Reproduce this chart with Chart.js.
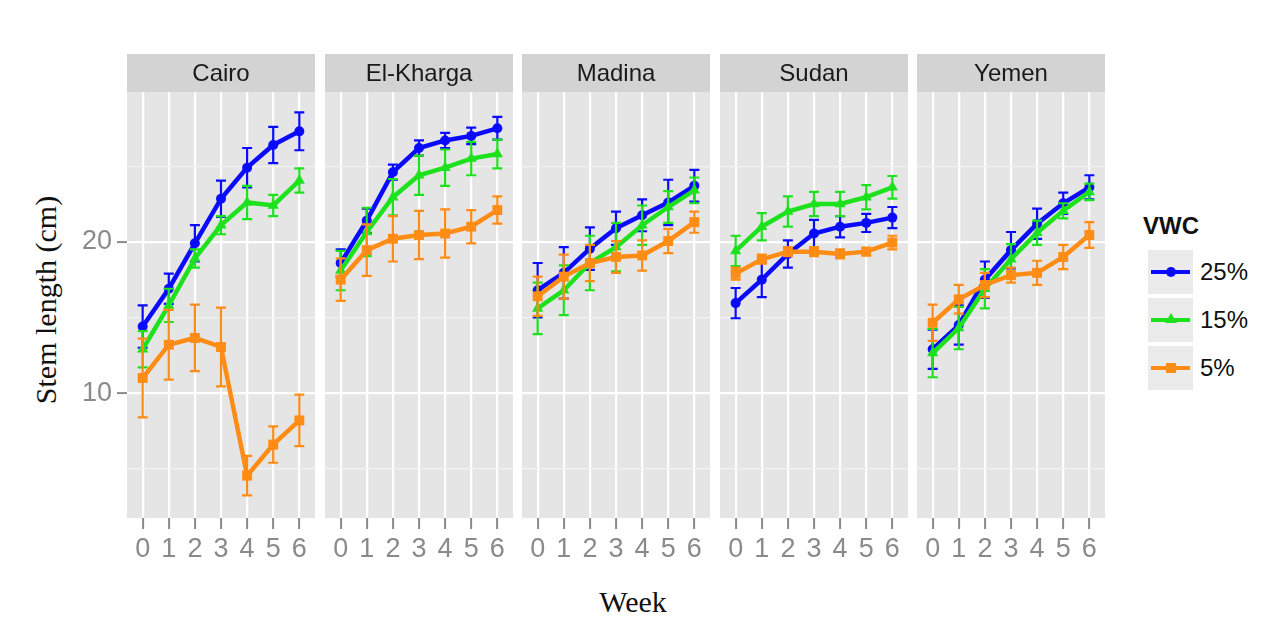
<!DOCTYPE html>
<html>
<head>
<meta charset="utf-8">
<script src="https://cdn.jsdelivr.net/npm/chart.js@4.4.0/dist/chart.umd.min.js"></script>
<style>
  body { margin: 0; background: #fff; width: 1280px; height: 619px; position: relative; overflow: hidden;
         font-family: "Liberation Sans", Arial, sans-serif; }
  canvas { position: absolute; }
  #ytitle { position: absolute; left: 46px; top: 300px; transform: translate(-50%, -50%) rotate(-90deg);
            font: 30px "Liberation Serif", "Times New Roman", serif; white-space: nowrap; color: #111; }
  #xtitle { position: absolute; left: 633px; top: 602px; transform: translate(-50%, -50%);
            font: 30px "Liberation Serif", "Times New Roman", serif; color: #111; }
  #legend { position: absolute; left: 1143px; top: 212px; }
  #legend .title { font-weight: bold; font-size: 24px; color: #111; margin-bottom: 10px; }
  .key { position: relative; height: 48px; }
  .box { position: absolute; left: 5px; top: 0; width: 45px; height: 44px; background: #ebebeb; }
  .line { position: absolute; left: 3px; right: 3px; top: 20px; height: 4px; }
  .mk { position: absolute; left: 50%; top: 22px; transform: translate(-50%, -50%); }
  .lab { position: absolute; left: 57px; top: 8px; font-size: 24px; color: #111; }
</style>
</head>
<body>
<div id="ytitle">Stem length (cm)</div>
<div id="xtitle">Week</div>
<div id="legend"></div>

<script>
// --- Data ---
const weeks = [0, 1, 2, 3, 4, 5, 6];
const sites = ['Cairo', 'El-Kharga', 'Madina', 'Sudan', 'Yemen'];
const levels = ['25%', '15%', '5%'];
const yTicks = [5, 10, 15, 20, 25];

// one row per site, one value per week
const mean25 = [
    [14.4, 16.9, 19.9, 22.85, 24.9, 26.4, 27.3],
    [18.6, 21.4, 24.6, 26.2, 26.7, 27.0, 27.5],
    [16.8, 17.95, 19.55, 20.9, 21.75, 22.6, 23.7],
    [15.95, 17.5, 19.2, 20.55, 21.0, 21.25, 21.6],
    [12.9, 14.5, 17.5, 19.45, 21.2, 22.55, 23.6]
];
const err25 = [
    [1.4, 1.0, 1.2, 1.2, 1.3, 1.2, 1.25],
    [0.9, 0.8, 0.5, 0.5, 0.5, 0.55, 0.75],
    [1.8, 1.7, 1.4, 1.1, 1.05, 1.5, 1.05],
    [1.0, 1.15, 0.9, 0.9, 0.7, 0.6, 0.7],
    [1.3, 1.3, 1.2, 1.2, 1.0, 0.7, 0.8]
];
const mean15 = [
    [12.9, 15.8, 18.9, 21.1, 22.6, 22.4, 24.05],
    [18.1, 20.65, 22.95, 24.4, 24.9, 25.5, 25.8],
    [15.6, 16.8, 18.6, 19.65, 21.1, 22.3, 23.4],
    [19.4, 21.0, 22.0, 22.5, 22.5, 22.95, 23.6],
    [12.65, 14.3, 16.9, 18.85, 20.6, 22.05, 23.3]
];
const err15 = [
    [1.2, 1.1, 0.6, 0.6, 1.1, 0.7, 0.8],
    [1.3, 1.6, 1.2, 1.3, 1.2, 1.1, 0.95],
    [1.7, 1.65, 1.8, 1.6, 1.3, 1.05, 0.85],
    [1.0, 0.9, 1.0, 0.8, 0.8, 0.8, 0.75],
    [1.6, 1.4, 1.3, 1.0, 0.8, 0.5, 0.55]
];
const mean5 = [
    [11.0, 13.2, 13.65, 13.05, 4.55, 6.6, 8.2],
    [17.5, 19.45, 20.2, 20.45, 20.55, 21.0, 22.1],
    [16.4, 17.7, 18.6, 19.0, 19.1, 20.05, 21.3],
    [17.9, 18.85, 19.35, 19.35, 19.2, 19.35, 19.95],
    [14.65, 16.2, 17.15, 17.8, 17.95, 19.0, 20.45]
];
const err5 = [
    [2.6, 2.3, 2.2, 2.6, 1.3, 1.2, 1.7],
    [1.4, 1.7, 1.5, 1.6, 1.6, 1.1, 0.9],
    [1.3, 1.45, 1.2, 1.05, 1.0, 0.8, 0.7],
    [0.4, 0.3, 0.3, 0.3, 0.3, 0.25, 0.45],
    [1.2, 0.95, 0.8, 0.5, 0.8, 0.8, 0.85]
];

const colors = ['#0a0aff', '#1ee11e', '#ff8c14'];
const shapes = ['circle', 'triangle', 'rect'];
const radii = [5, 6.5, 7];

// --- Layout ---
const panelLefts = [127, 325, 522, 720, 917];
const PANEL_W = 188;
const TOP = 54, STRIP = 38, X_AXIS_H = 57, H = 521;
const Y_AXIS_W = 60;
const tickFont = { size: 27, family: '"Liberation Sans", Arial, sans-serif' };

// panel background + facet strip
const facet = {
    id: 'facet',
    beforeDraw(chart) {
        const { ctx, chartArea: a } = chart;
        ctx.save();
        ctx.fillStyle = '#e5e5e5';
        ctx.fillRect(a.left, a.top, a.right - a.left, a.bottom - a.top);
        ctx.fillStyle = '#d3d3d3';
        ctx.fillRect(a.left, 0, a.right - a.left, STRIP);
        ctx.fillStyle = '#1a1a1a';
        ctx.font = '24px "Liberation Sans", Arial, sans-serif';
        ctx.textAlign = 'center';
        ctx.textBaseline = 'middle';
        ctx.fillText(chart.options.plugins.facet.label, (a.left + a.right) / 2, STRIP / 2 + 1);
        ctx.restore();
    }
};

// error bars, drawn right after each line
const errorBars = {
    id: 'errorBars',
    afterDatasetDraw(chart, args) {
        const ds = chart.data.datasets[args.index];
        const x = chart.scales.x, y = chart.scales.y, ctx = chart.ctx;
        ctx.save();
        ctx.strokeStyle = ds.borderColor;
        ctx.lineWidth = 2.2;
        ds.data.forEach((p, i) => {
            const px = x.getPixelForValue(p.x);
            const top = y.getPixelForValue(p.y + ds.err[i]);
            const bot = y.getPixelForValue(p.y - ds.err[i]);
            ctx.beginPath();
            ctx.moveTo(px, top); ctx.lineTo(px, bot);
            ctx.moveTo(px - 5, top); ctx.lineTo(px + 5, top);
            ctx.moveTo(px - 5, bot); ctx.lineTo(px + 5, bot);
            ctx.stroke();
        });
        ctx.restore();
    }
};

function makeSeries(means, errs, k, s) {
    return {
        label: levels[k],
        data: weeks.map((w, i) => ({ x: w, y: means[s][i] })),
        err: errs[s],
        borderColor: colors[k],
        backgroundColor: colors[k],
        borderWidth: 4.5,
        pointStyle: shapes[k],
        pointRadius: radii[k],
        pointBorderWidth: 0,
        order: 3 - k
    };
}

sites.forEach((site, s) => {
    const first = s === 0;
    const cv = document.createElement('canvas');
    const w = PANEL_W + (first ? Y_AXIS_W : 0);
    cv.width = w; cv.height = H;
    cv.style.left = (panelLefts[s] - (first ? Y_AXIS_W : 0)) + 'px';
    cv.style.top = TOP + 'px';
    document.body.appendChild(cv);

    new Chart(cv, {
        type: 'line',
        data: {
            datasets: [
                makeSeries(mean25, err25, 0, s),
                makeSeries(mean15, err15, 1, s),
                makeSeries(mean5, err5, 2, s)
            ]
        },
        options: {
            responsive: false,
            animation: false,
            devicePixelRatio: 1,
            layout: { autoPadding: false, padding: { top: STRIP, left: 0, right: 0, bottom: 0 } },
            plugins: { legend: { display: false }, tooltip: { enabled: false }, facet: { label: site } },
            scales: {
                x: {
                    type: 'linear', min: -0.6, max: 6.6,
                    afterBuildTicks: sc => { sc.ticks = weeks.map(v => ({ value: v })); },
                    afterFit: sc => { sc.height = X_AXIS_H; sc.paddingLeft = 0; sc.paddingRight = 0; },
                    border: { display: false },
                    grid: { color: '#ffffff', lineWidth: 2.2, tickColor: '#8a8a8a', tickWidth: 2, tickLength: 11 },
                    ticks: { color: '#8a8a8a', font: tickFont, padding: 4, maxRotation: 0 }
                },
                y: {
                    type: 'linear', min: 1.75, max: 29.9,
                    afterBuildTicks: sc => { sc.ticks = yTicks.map(v => ({ value: v })); },
                    afterFit: sc => { sc.width = first ? Y_AXIS_W : 0; sc.paddingTop = 0; sc.paddingBottom = 0; },
                    border: { display: false },
                    grid: {
                        color: c => c.tick && c.tick.value % 10 === 0 ? '#ffffff' : '#f2f2f2',
                        lineWidth: c => c.tick && c.tick.value % 10 === 0 ? 2.2 : 1.2,
                        tickColor: c => c.tick && c.tick.value % 10 === 0 ? '#8a8a8a' : 'rgba(0,0,0,0)',
                        tickWidth: 2, tickLength: 10, drawTicks: first
                    },
                    ticks: {
                        display: first,
                        color: '#8a8a8a', padding: 5,
                        font: tickFont,
                        callback: v => v % 10 === 0 ? String(v) : ''
                    }
                }
            }
        },
        plugins: [facet, errorBars]
    });
});

// --- Legend ---
const legend = document.getElementById('legend');
legend.innerHTML = '<div class="title">VWC</div>';
levels.forEach((lv, k) => {
    let mk;
    if (k === 0) mk = `<div class="mk" style="width:10px;height:10px;border-radius:50%;background:${colors[k]}"></div>`;
    else if (k === 1) mk = `<div class="mk" style="top:20px;width:0;height:0;border-left:6px solid transparent;border-right:6px solid transparent;border-bottom:10px solid ${colors[k]}"></div>`;
    else mk = `<div class="mk" style="width:10px;height:10px;background:${colors[k]}"></div>`;
    legend.insertAdjacentHTML('beforeend',
        `<div class="key"><div class="box"><div class="line" style="background:${colors[k]}"></div>${mk}</div><div class="lab">${lv}</div></div>`);
});
</script>
</body>
</html>
